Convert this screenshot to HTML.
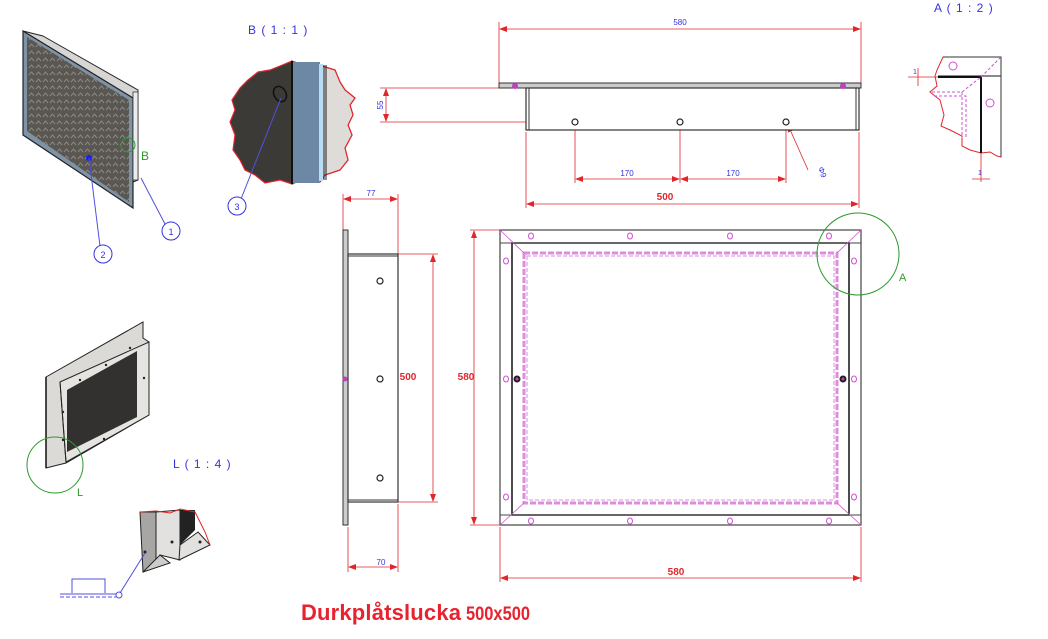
<!DOCTYPE html>
<html><head><meta charset="utf-8"><style>
html,body{margin:0;padding:0;background:#fff;width:1048px;height:639px;overflow:hidden}
svg{display:block}
text{font-family:"Liberation Sans",sans-serif}
</style></head><body>
<svg width="1048" height="639" viewBox="0 0 1048 639" xmlns="http://www.w3.org/2000/svg">
<defs>
<marker id="ar" markerWidth="8" markerHeight="6" refX="7" refY="3" orient="auto-start-reverse" markerUnits="userSpaceOnUse"><path d="M0,0 L8,3 L0,6z" fill="#e0262b"/></marker>
<pattern id="plate" width="7" height="7" patternUnits="userSpaceOnUse"><rect width="7" height="7" fill="#5a5753"/><path d="M1,5 L3.5,2 L6,5" stroke="#8a8680" stroke-width="1" fill="none"/></pattern>
</defs>

<!-- ISO 1 -->
<polygon points="43,36 138,90 138,180 133,182 133,98 23,31" fill="#d8d6d4" stroke="#222" stroke-width="1"/>
<polygon points="23,31 133,98 133,208 23,135" fill="#7f93a6" stroke="#222" stroke-width="1.2"/>
<polygon points="27,37 129,100 129,202 27,131" fill="url(#plate)"/>
<rect x="133" y="92" width="5" height="88" fill="#ececec" stroke="#333" stroke-width="0.8"/>
<circle cx="128" cy="145" r="7" fill="none" stroke="#2c9a2c" stroke-width="1"/>
<text x="141" y="160" font-size="12" fill="#2c9a2c">B</text>
<circle cx="89" cy="158" r="3" fill="#1a1aff"/>
<line x1="89" y1="158" x2="100" y2="246" stroke="#5050e0" stroke-width="1"/>
<line x1="141" y1="178" x2="165" y2="224" stroke="#5050e0" stroke-width="1"/>
<circle cx="171" cy="231" r="9" fill="#fff" stroke="#3333e0"/><text x="171" y="235" font-size="9" fill="#3333e0" text-anchor="middle">1</text>
<circle cx="103" cy="254" r="9" fill="#fff" stroke="#3333e0"/><text x="103" y="258" font-size="9" fill="#3333e0" text-anchor="middle">2</text>

<!-- B detail -->
<text x="248" y="34" font-size="12" fill="#3333e0" letter-spacing="1">B ( 1 : 1 )</text>
<path d="M292,61 L300,64 L315,63 L322,66 L335,70 L340,82 L345,90 L355,98 L350,105 L353,115 L348,125 L352,135 L345,148 L348,160 L340,170 L325,175 L320,182 L305,178 L292,184 L280,180 L265,183 L255,175 L245,170 L240,160 L233,150 L235,135 L230,122 L235,110 L232,100 L240,88 L248,80 L258,72 L270,70 L280,66 Z" fill="#3c3a37" stroke="#e0262b" stroke-width="1.2"/>
<path d="M292,61 L300,64 L315,63 L322,66 L335,70 L340,82 L345,90 L355,98 L350,105 L353,115 L348,125 L352,135 L345,148 L348,160 L340,170 L325,175 L320,182 L305,178 L292,184 Z" fill="#dedbd8" stroke="#e0262b" stroke-width="1.2"/>
<rect x="292" y="62" width="28" height="121" fill="#6d88a4"/>
<rect x="319" y="64" width="4" height="117" fill="#b9dcf5"/>
<line x1="292" y1="61" x2="292" y2="184" stroke="#111" stroke-width="2"/>
<line x1="324" y1="65" x2="324" y2="180" stroke="#222" stroke-width="1"/>
<line x1="326" y1="65" x2="326" y2="180" stroke="#222" stroke-width="1"/>
<ellipse cx="280" cy="94" rx="6" ry="8" transform="rotate(-30 280 94)" fill="none" stroke="#111" stroke-width="1.5"/>
<line x1="281" y1="98" x2="241" y2="199" stroke="#5050e0"/>
<circle cx="237" cy="206" r="9" fill="#fff" stroke="#3333e0"/><text x="237" y="210" font-size="9" fill="#3333e0" text-anchor="middle">3</text>

<!-- TOP VIEW -->
<g stroke="#e0262b" stroke-width="0.8" fill="none">
<line x1="499" y1="22" x2="499" y2="85"/><line x1="861" y1="22" x2="861" y2="85"/>
<line x1="500" y1="29" x2="860" y2="29" marker-start="url(#ar)" marker-end="url(#ar)"/>
<line x1="380" y1="88" x2="500" y2="88"/><line x1="380" y1="122" x2="572" y2="122"/>
<line x1="386" y1="89" x2="386" y2="121" marker-start="url(#ar)" marker-end="url(#ar)"/>
<line x1="575" y1="125" x2="575" y2="183"/><line x1="680" y1="125" x2="680" y2="183"/><line x1="786" y1="125" x2="786" y2="183"/>
<line x1="576" y1="179" x2="679" y2="179" marker-start="url(#ar)" marker-end="url(#ar)"/>
<line x1="681" y1="179" x2="785" y2="179" marker-start="url(#ar)" marker-end="url(#ar)"/>
<line x1="526" y1="132" x2="526" y2="208"/><line x1="859" y1="132" x2="859" y2="208"/>
<line x1="527" y1="204" x2="858" y2="204" marker-start="url(#ar)" marker-end="url(#ar)"/>
<line x1="808" y1="170" x2="788" y2="125" marker-end="url(#ar)"/>
</g>
<text x="680" y="25" font-size="8" fill="#3333e0" text-anchor="middle">580</text>
<text x="383" y="105" font-size="8" fill="#3333e0" text-anchor="middle" transform="rotate(-90 383 105)">55</text>
<text x="627" y="176" font-size="8" fill="#3333e0" text-anchor="middle">170</text>
<text x="733" y="176" font-size="8" fill="#3333e0" text-anchor="middle">170</text>
<text x="665" y="200" font-size="10" font-weight="bold" fill="#e0262b" text-anchor="middle">500</text>
<text x="818" y="168" font-size="8" fill="#3333e0" transform="rotate(70 818 168)">Φ9</text>
<rect x="499" y="83" width="362" height="5" fill="#ccc" stroke="#333" stroke-width="1"/>
<rect x="526" y="88" width="333" height="42" fill="#fff" stroke="#333" stroke-width="1.2"/>
<line x1="529" y1="88" x2="529" y2="130" stroke="#333"/><line x1="856" y1="88" x2="856" y2="130" stroke="#333"/>
<circle cx="515" cy="86" r="3" fill="#c040c0"/><circle cx="843" cy="86" r="3" fill="#c040c0"/>
<g fill="#fff" stroke="#222" stroke-width="1.2"><circle cx="575" cy="122" r="3"/><circle cx="680" cy="122" r="3"/><circle cx="786" cy="122" r="3"/></g>

<!-- A detail -->
<text x="934" y="12" font-size="12" fill="#3333e0" letter-spacing="1">A ( 1 : 2 )</text>
<path d="M943,57 L1001,57 L1001,157 L997,156 L990,152 L981,153 L970,150 L962,146 L962,136 L950,130 L941,126 L944,115 L940,100 L930,92 L937,86 L935,76 L937,70 L943,57Z" fill="#fff" stroke="#e0262b" stroke-width="1"/>
<polyline points="943,57 1001,57 1001,157" fill="none" stroke="#333" stroke-width="1"/>
<line x1="938" y1="76" x2="1001" y2="76" stroke="#444" stroke-width="1.2"/>
<polyline points="938,77 981,77 981,153" fill="none" stroke="#111" stroke-width="2"/>
<line x1="981" y1="77" x2="1000" y2="58" stroke="#d050d0" stroke-dasharray="3,2"/>
<polyline points="932,92 962,92 962,138" fill="none" stroke="#d050d0" stroke-dasharray="3,2"/>
<polyline points="934,96 966,96 966,138" fill="none" stroke="#d050d0" stroke-dasharray="3,2"/>
<line x1="962" y1="92" x2="981" y2="77" stroke="#d050d0" stroke-dasharray="3,2"/>
<circle cx="953" cy="66" r="4" fill="none" stroke="#d050d0"/><circle cx="990" cy="103" r="4" fill="none" stroke="#d050d0"/>
<g stroke="#e0262b" stroke-width="0.8"><line x1="908" y1="77" x2="938" y2="77"/><line x1="918" y1="68" x2="918" y2="86"/><line x1="981" y1="153" x2="981" y2="182"/><line x1="972" y1="179" x2="990" y2="179"/></g>
<text x="913" y="74" font-size="7" fill="#3333e0">1</text>
<text x="978" y="175" font-size="7" fill="#3333e0">1</text>

<!-- SIDE VIEW -->
<g stroke="#e0262b" stroke-width="0.8" fill="none">
<line x1="343" y1="194" x2="343" y2="230"/><line x1="398" y1="194" x2="398" y2="254"/>
<line x1="344" y1="199" x2="397" y2="199" marker-start="url(#ar)" marker-end="url(#ar)"/>
<line x1="398" y1="254" x2="438" y2="254"/><line x1="398" y1="502" x2="438" y2="502"/>
<line x1="433" y1="255" x2="433" y2="501" marker-start="url(#ar)" marker-end="url(#ar)"/>
<line x1="474" y1="231" x2="474" y2="524" marker-start="url(#ar)" marker-end="url(#ar)"/>
<line x1="348" y1="527" x2="348" y2="572"/><line x1="398" y1="504" x2="398" y2="572"/>
<line x1="349" y1="567" x2="397" y2="567" marker-start="url(#ar)" marker-end="url(#ar)"/>
</g>
<text x="371" y="196" font-size="8" fill="#3333e0" text-anchor="middle">77</text>
<text x="381" y="565" font-size="8" fill="#3333e0" text-anchor="middle">70</text>
<text x="408" y="380" font-size="10" font-weight="bold" fill="#e0262b" text-anchor="middle">500</text>
<text x="466" y="380" font-size="10" font-weight="bold" fill="#e0262b" text-anchor="middle">580</text>
<rect x="343" y="230" width="5" height="295" fill="#ccc" stroke="#333"/>
<rect x="348" y="254" width="50" height="248" fill="#fff" stroke="#333" stroke-width="1.2"/>
<line x1="348" y1="256" x2="398" y2="256" stroke="#333"/><line x1="348" y1="500" x2="398" y2="500" stroke="#333"/>
<circle cx="345" cy="379" r="2.5" fill="#c040c0"/>
<g fill="#fff" stroke="#222" stroke-width="1.2"><circle cx="380" cy="281" r="3"/><circle cx="380" cy="379" r="3"/><circle cx="380" cy="478" r="3"/></g>

<!-- FRONT VIEW -->
<g stroke="#e0262b" stroke-width="0.8" fill="none">
<line x1="470" y1="230" x2="500" y2="230"/><line x1="470" y1="525" x2="500" y2="525"/>
<line x1="500" y1="527" x2="500" y2="582"/><line x1="861" y1="527" x2="861" y2="582"/>
<line x1="501" y1="578" x2="860" y2="578" marker-start="url(#ar)" marker-end="url(#ar)"/>
</g>
<text x="676" y="575" font-size="10" font-weight="bold" fill="#e0262b" text-anchor="middle">580</text>
<rect x="500" y="230" width="361" height="295" fill="#fff" stroke="#444" stroke-width="1.2"/>
<rect x="512" y="243" width="337" height="272" fill="#fff" stroke="#111" stroke-width="1.5"/>
<line x1="500" y1="243" x2="861" y2="243" stroke="#444"/><line x1="500" y1="515" x2="861" y2="515" stroke="#444"/>
<rect x="524" y="253" width="313" height="250" fill="none" stroke="#e08ae0" stroke-width="3" stroke-dasharray="6,2"/>
<rect x="527" y="256" width="307" height="244" fill="none" stroke="#e08ae0" stroke-width="1" stroke-dasharray="4,2"/>
<g stroke="#d050d0" stroke-width="0.8"><line x1="500" y1="230" x2="524" y2="253"/><line x1="861" y1="230" x2="837" y2="253"/><line x1="500" y1="525" x2="524" y2="503"/><line x1="861" y1="525" x2="837" y2="503"/></g>
<g fill="none" stroke="#d050d0" stroke-width="1">
<ellipse cx="531" cy="236" rx="2.5" ry="3"/><ellipse cx="630" cy="236" rx="2.5" ry="3"/><ellipse cx="730" cy="236" rx="2.5" ry="3"/><ellipse cx="829" cy="236" rx="2.5" ry="3"/>
<ellipse cx="531" cy="521" rx="2.5" ry="3"/><ellipse cx="630" cy="521" rx="2.5" ry="3"/><ellipse cx="730" cy="521" rx="2.5" ry="3"/><ellipse cx="829" cy="521" rx="2.5" ry="3"/>
<ellipse cx="506" cy="261" rx="2.5" ry="3"/><ellipse cx="506" cy="379" rx="2.5" ry="3"/><ellipse cx="506" cy="497" rx="2.5" ry="3"/>
<ellipse cx="854" cy="261" rx="2.5" ry="3"/><ellipse cx="854" cy="379" rx="2.5" ry="3"/><ellipse cx="854" cy="497" rx="2.5" ry="3"/>
</g>
<circle cx="517" cy="379" r="3.5" fill="#222"/><circle cx="517" cy="379" r="1.5" fill="#c040c0"/>
<circle cx="843" cy="379" r="3.5" fill="#222"/><circle cx="843" cy="379" r="1.5" fill="#c040c0"/>
<circle cx="858" cy="254" r="41" fill="none" stroke="#2c9a2c" stroke-width="1"/>
<text x="899" y="281" font-size="11" fill="#2c9a2c">A</text>

<!-- ISO 2 -->
<polygon points="46,377 143,322 143,338 149,342 149,415 66,463 46,468" fill="#dcdad7" stroke="#222"/>
<polygon points="60,382 149,342 149,415 66,462" fill="#e6e4e1" stroke="#222"/>
<polygon points="67,390 137,351 137,417 67,452" fill="#333130"/>
<line x1="60" y1="382" x2="66" y2="462" stroke="#222"/>
<line x1="46" y1="377" x2="46" y2="468" stroke="#111" stroke-width="1.5"/>
<g fill="#222"><circle cx="80" cy="380" r="1.2"/><circle cx="106" cy="365" r="1.2"/><circle cx="130" cy="348" r="1.2"/><circle cx="63" cy="412" r="1.2"/><circle cx="63" cy="440" r="1.2"/><circle cx="144" cy="378" r="1.2"/><circle cx="104" cy="439" r="1.2"/></g>
<circle cx="55" cy="465" r="28" fill="none" stroke="#2c9a2c" stroke-width="1"/>
<text x="77" y="496" font-size="11" fill="#2c9a2c">L</text>
<text x="173" y="468" font-size="12" fill="#3333e0" letter-spacing="1">L ( 1 : 4 )</text>

<!-- L detail -->
<polygon points="140,512 156,512 156,565 143,572" fill="#a8a6a4" stroke="#222"/>
<polygon points="156,512 180,510 180,560 160,555 156,565" fill="#e3e1df" stroke="#222"/>
<polygon points="180,510 195,510 195,530 180,545" fill="#222"/>
<polygon points="180,545 198,532 210,545 179,560" fill="#e3e1df" stroke="#222"/>
<polygon points="143,572 160,555 170,563" fill="#cfcdcb" stroke="#222"/>
<path d="M140,512 L156,511 L170,513 L180,509 L195,512 L200,522 L205,532 L210,545" fill="none" stroke="#e0262b" stroke-width="1"/>
<circle cx="145" cy="552" r="1.5" fill="#222"/><circle cx="172" cy="542" r="1.5" fill="#222"/><circle cx="200" cy="542" r="1.5" fill="#222"/>
<line x1="145" y1="553" x2="120" y2="593" stroke="#5050e0"/>
<circle cx="119" cy="595" r="3" fill="none" stroke="#5050e0"/>
<polyline points="72,593 72,579 105,579 105,593" fill="none" stroke="#5050e0"/>
<line x1="60" y1="594" x2="116" y2="594" stroke="#5050e0"/>
<line x1="60" y1="597" x2="116" y2="597" stroke="#5050e0" stroke-dasharray="4,2"/>

<!-- Title -->
<text x="301" y="620" font-size="22" font-weight="bold" fill="#e8222f" textLength="160">Durkplåtslucka</text>
<text x="466" y="620" font-size="19" font-weight="bold" fill="#e8222f" textLength="64" lengthAdjust="spacingAndGlyphs">500x500</text>
</svg>
</body></html>
